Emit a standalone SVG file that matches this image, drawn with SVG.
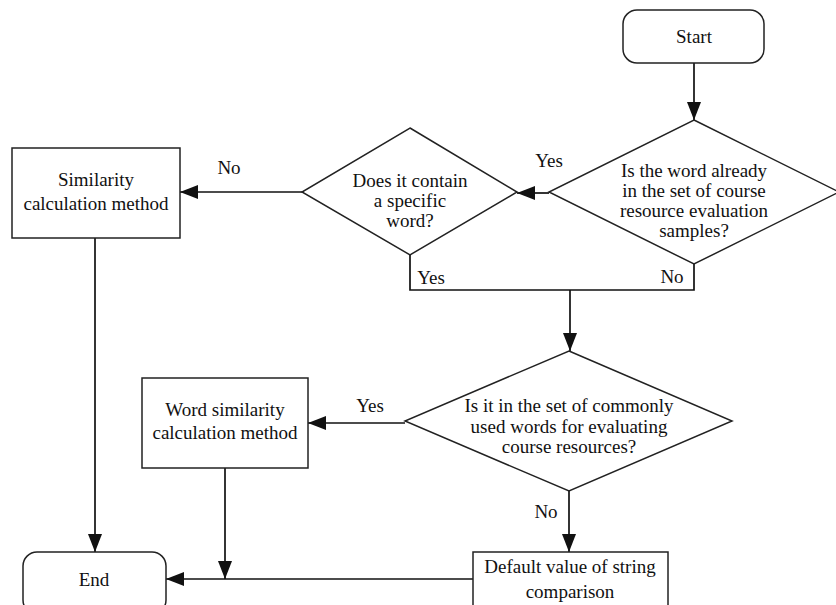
<svg xmlns="http://www.w3.org/2000/svg" width="836" height="605" viewBox="0 0 836 605" font-family="'Liberation Serif', 'Times New Roman', serif">
<defs>
<marker id="ah" markerUnits="userSpaceOnUse" markerWidth="18" markerHeight="14" viewBox="0 0 18 14" refX="18" refY="7" orient="auto">
<path d="M0,0 L18,7 L0,14 Z" fill="#111"/>
</marker>
</defs>
<style>
.shape{fill:#fff;stroke:#222;stroke-width:1.5}
.line{fill:none;stroke:#111;stroke-width:1.7}
text{font-family:'Liberation Serif','Times New Roman',serif;font-size:19px;fill:#111;text-anchor:middle}
</style>
<rect width="836" height="605" fill="#fff"/>
<g id="connectors">
<line class="line" x1="694" y1="63" x2="694" y2="120" marker-end="url(#ah)"/>
<line class="line" x1="549" y1="193" x2="517" y2="193" marker-end="url(#ah)"/>
<line class="line" x1="302" y1="192" x2="180" y2="192" marker-end="url(#ah)"/>
<polyline class="line" points="694,264 694,290 410,290 410,255"/>
<line class="line" x1="570" y1="290" x2="570" y2="351" marker-end="url(#ah)"/>
<line class="line" x1="405" y1="423" x2="308" y2="423" marker-end="url(#ah)"/>
<line class="line" x1="569" y1="491" x2="569" y2="552" marker-end="url(#ah)"/>
<line class="line" x1="95" y1="238" x2="95" y2="552" marker-end="url(#ah)"/>
<line class="line" x1="225" y1="468" x2="225" y2="579" marker-end="url(#ah)"/>
<line class="line" x1="473" y1="579" x2="166" y2="579" marker-end="url(#ah)"/>
<text x="549" y="167">Yes</text>
<text x="229" y="174">No</text>
<text x="672" y="283">No</text>
<text x="431" y="284">Yes</text>
<text x="370" y="412">Yes</text>
<text x="546" y="518">No</text>
</g>
<g id="start">
<rect class="shape" x="623" y="10" width="141" height="53" rx="14"/>
<text x="694" y="43">Start</text>
</g>
<g id="decision1">
<polygon class="shape" points="694,120 839,192 694,264 549,192"/>
<text x="694" y="177">Is the word already</text>
<text x="694" y="197">in the set of course</text>
<text x="694" y="217">resource evaluation</text>
<text x="694" y="237">samples?</text>
</g>
<g id="decision2">
<polygon class="shape" points="410,128 517,192 410,255 302,192"/>
<text x="410" y="187">Does it contain</text>
<text x="410" y="207">a specific</text>
<text x="410" y="227">word?</text>
</g>
<g id="similarity">
<rect class="shape" x="12" y="148" width="168" height="90"/>
<text x="96" y="186">Similarity</text>
<text x="96" y="210">calculation method</text>
</g>
<g id="decision3">
<polygon class="shape" points="569,351 732,421 569,491 405,421"/>
<text x="569" y="412">Is it in the set of commonly</text>
<text x="569" y="433">used words for evaluating</text>
<text x="569" y="453">course resources?</text>
</g>
<g id="wordsim">
<rect class="shape" x="142" y="378" width="166" height="90"/>
<text x="225" y="416">Word similarity</text>
<text x="225" y="439">calculation method</text>
</g>
<g id="default">
<rect class="shape" x="473" y="552" width="195" height="60"/>
<text x="570" y="573">Default value of string</text>
<text x="570" y="598">comparison</text>
</g>
<g id="end">
<rect class="shape" x="23" y="552" width="143" height="62" rx="14"/>
<text x="94" y="586">End</text>
</g>
</svg>
